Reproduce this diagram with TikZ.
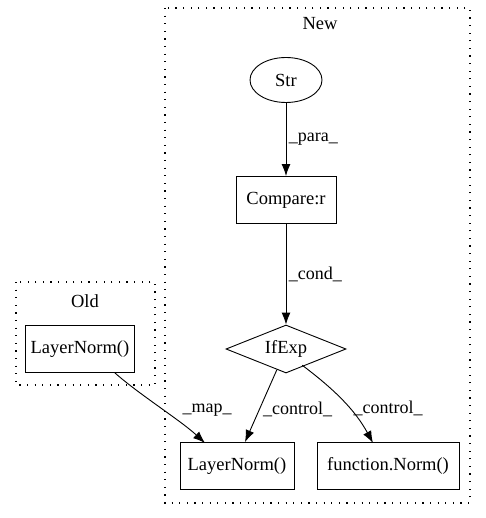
\documentclass[tikz,border=0pt]{standalone}
\usepackage{fontspec}
\setmainfont{Liberation Serif}
\usetikzlibrary{arrows.meta}
\usetikzlibrary{positioning}
\usetikzlibrary{shapes.geometric}

\tikzset{
  box/.style={draw, rectangle, minimum height=47pt, inner xsep=4pt},
  cluster/.style={draw, line width=1.2pt, dash pattern=on 1.2pt off 6.4pt},
  flow/.style={-{Latex[length=12pt,width=9pt]}, line width=0.9pt},
  lbl/.style={font=\fontsize{18}{20}\selectfont}
}

\begin{document}
\begin{tikzpicture}[x=1pt, y=-1pt, font=\fontsize{18.5}{20}\selectfont, line width=0.9pt]
    \useasboundingbox (0, 0) rectangle (485, 518);

    % clusters
    \draw [cluster] (165, 8) rectangle (470, 503);
    \node at (320, 24) {New};
    \draw [cluster] (16, 282) rectangle (155, 385);
    \node at (85, 301) {Old};

    \node [draw, ellipse, minimum width=72pt, minimum height=45pt, inner sep=0pt] (str) at (286, 80) {Str};
    \node [box, minimum width=100pt] (cmp) at (286, 200) {Compare:r};
    \node [draw, diamond, aspect=2.4, minimum width=120pt, minimum height=48pt, inner sep=0pt] (ifexp) at (286, 349) {IfExp};
    \node [box, minimum width=114pt] (lnnew) at (237, 466) {LayerNorm()};
    \node [box, minimum width=142pt] (fnorm) at (388, 466) {function.Norm()};
    \node [box, minimum width=109pt] (lnold) at (80, 349) {LayerNorm()};

    \draw [flow] (str) -- (cmp) node [pos=0.5, right=-1pt, lbl] {\_para\_};
    \draw [flow] (cmp) -- (ifexp) node [pos=0.5, right=-1pt, lbl] {\_cond\_};
    \draw [flow] (ifexp) -- (lnnew.north -| 245, 0) node [pos=0.55, right=0pt, lbl] {\_control\_};
    \draw [flow] (ifexp.south east) ++(-14, 4) coordinate (ifr)
        (ifr) .. controls (335, 390) and (355, 410) .. (373, 443) node [pos=0.6, right=0pt, lbl] {\_control\_};
    \draw [flow] (lnold.south east) ++(-20, 0) coordinate (oldo)
        (oldo) .. controls (140, 395) and (180, 420) .. (205, 443) node [pos=0.55, above right=-9pt and 14pt, lbl] {\_map\_};
  \end{tikzpicture}
\end{document}
